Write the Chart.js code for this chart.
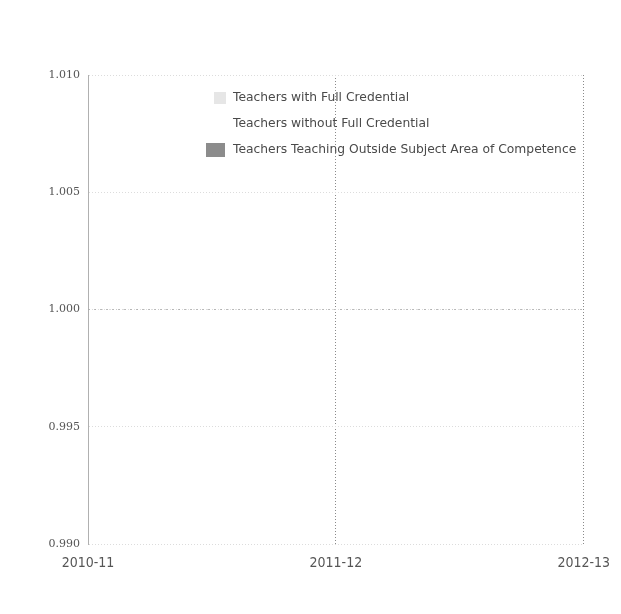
<!DOCTYPE html>
<html>
<head>
<meta charset="utf-8">
<script src="https://cdn.jsdelivr.net/npm/chart.js@4"></script>
<style>
  html, body { margin: 0; padding: 0; background: #fff; }
  #wrap { width: 621px; height: 614px; }
</style>
</head>
<body>
<div id="wrap"><canvas id="teacherChart" width="621" height="614"></canvas></div>
<script>
// school years on the x axis
const years = ['2010-11', '2011-12', '2012-13'];

// series values (every series sits on 1.000 in the picture)
const fullCredential = [1, 1, 1];
const withoutCredential = [1, 1, 1];
const outsideSubject = [1, 1, 1];

const seriesNames = [
  'Teachers with Full Credential',
  'Teachers without Full Credential',
  'Teachers Teaching Outside Subject Area of Competence'
];

// y axis tick range
const yMin = 0.990;
const yMax = 1.010;
const yStep = 0.005;

const swatchColors = ['#e6e6e6', 'rgba(255,255,255,0)', '#8c8c8c'];

// legend is drawn inside the plot, top right, like the scan
const insideLegend = {
  id: 'insideLegend',
  afterDraw(chart) {
    const ctx = chart.ctx;
    const area = chart.chartArea;
    ctx.save();
    ctx.font = '12.3px "DejaVu Sans"';
    ctx.textBaseline = 'middle';
    ctx.textAlign = 'left';
    chart.data.datasets.forEach((ds, i) => {
      const y = area.top + 23 + i * 26;
      const x = area.left + 145;
      ctx.fillStyle = swatchColors[i];
      if (i === 2) {
        ctx.fillRect(x - 27, y - 7, 19, 14);
      } else {
        ctx.fillRect(x - 19, y - 6, 12, 12);
      }
      ctx.fillStyle = '#4a4a4a';
      ctx.fillText(ds.label, x, y);
    });
    ctx.restore();
  }
};

const ctx = document.getElementById('teacherChart').getContext('2d');
const chart = new Chart(ctx, {
  type: 'line',
  data: {
    labels: years,
    datasets: [{
      label: seriesNames[0],
      data: fullCredential,
      borderColor: 'rgba(160,160,160,0.6)',
      borderWidth: 1,
      borderDash: [2, 4],
      pointRadius: 0,
      fill: false
    }, {
      label: seriesNames[1],
      data: withoutCredential,
      borderColor: 'rgba(200,200,200,0.4)',
      borderWidth: 1,
      borderDash: [1, 5],
      pointRadius: 0,
      fill: false
    }, {
      label: seriesNames[2],
      data: outsideSubject,
      borderColor: 'rgba(170,170,170,0.4)',
      borderWidth: 1,
      borderDash: [1, 6],
      pointRadius: 0,
      fill: false
    }]
  },
  options: {
    responsive: false,
    animation: false,
    layout: { padding: { top: 75, right: 34, bottom: 0, left: 0 } },
    plugins: {
      legend: { display: false },
      tooltip: { enabled: false }
    },
    scales: {
      x: {
        offset: false,
        border: { display: false, dash: [1, 2] },
        grid: {
          color: '#8a8a8a',
          lineWidth: 1,
          drawTicks: false
        },
        ticks: {
          color: '#555',
          font: { family: '"DejaVu Sans Condensed", "DejaVu Sans"', size: 14 },
          padding: 11,
          maxRotation: 0
        },
        afterFit(scale) { scale.height = 70; }
      },
      y: {
        min: yMin,
        max: yMax,
        border: { display: true, color: '#b0b0b0', dash: [1, 2] },
        grid: {
          color: '#dcdcdc',
          drawTicks: false
        },
        ticks: {
          stepSize: yStep,
          color: '#555',
          font: { family: '"DejaVu Serif"', size: 11 },
          padding: 8,
          callback: v => Number(v).toFixed(3)
        },
        afterFit(scale) { scale.width = 88; }
      }
    }
  },
  plugins: [insideLegend]
});
</script>
</body>
</html>
